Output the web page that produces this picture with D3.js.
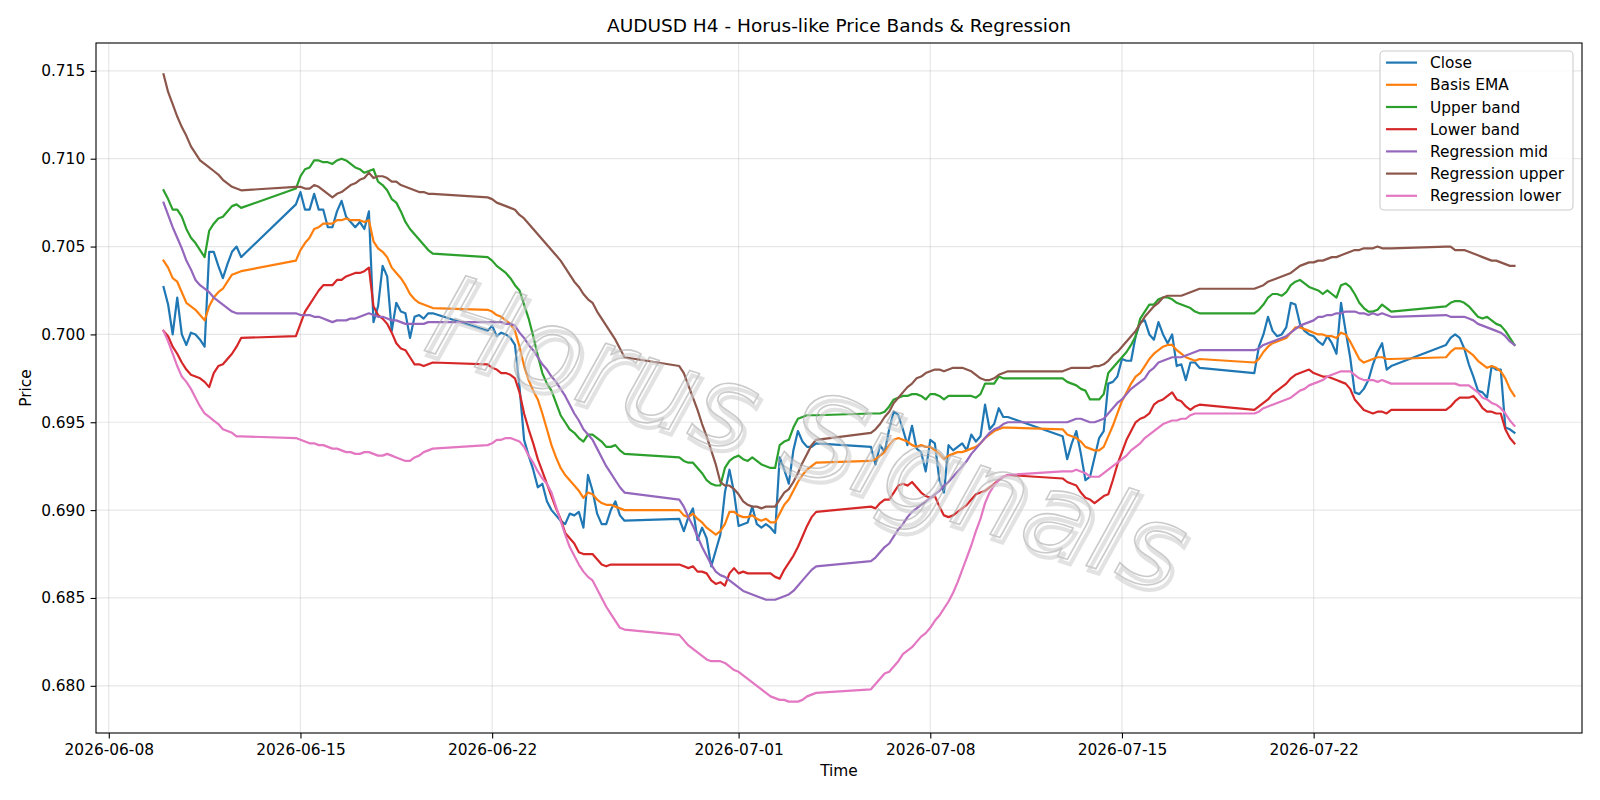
<!DOCTYPE html>
<html><head><meta charset="utf-8">
<script src="https://cdn.jsdelivr.net/npm/d3@7"></script>
<style>
body{margin:0;background:#fff}
svg{display:block}
text{font-family:"DejaVu Sans",sans-serif}
</style>
</head><body>
<svg id="chart" width="1600" height="800"></svg>
<script>
// ---- data ----
const sessions = [
  ["2026-06-10T00:00","2026-06-12T20:00"],
  ["2026-06-14T20:00","2026-06-19T20:00"],
  ["2026-06-21T20:00","2026-06-26T20:00"],
  ["2026-06-28T20:00","2026-07-03T20:00"],
  ["2026-07-05T20:00","2026-07-10T20:00"],
  ["2026-07-12T20:00","2026-07-17T20:00"],
  ["2026-07-19T20:00","2026-07-24T20:00"],
  ["2026-07-26T20:00","2026-07-29T08:00"]
];
const xTickLabels = ["2026-06-08","2026-06-15","2026-06-22","2026-07-01","2026-07-08","2026-07-15","2026-07-22"];
const yTicks = [0.680,0.685,0.690,0.695,0.700,0.705,0.710,0.715];
const seriesNames = ["Close","Basis EMA","Upper band","Lower band","Regression mid","Regression upper","Regression lower"];
const seriesColors = ["#1f77b4","#ff7f0e","#2ca02c","#d62728","#9467bd","#8c564b","#e377c2"];
const watermarkText = "Horus Signals";

const close = [
0.7027,0.7017,0.7000,0.7021,0.7000,0.6994,0.7001,0.7000,0.6997,0.6993,0.7047,0.7047,0.7039,0.7032,0.7040,0.7047,0.7050,0.7044,
0.7074,0.7081,0.7071,0.7071,0.7080,0.7071,0.7071,0.7061,0.7061,0.7070,
0.7076,0.7067,0.7064,0.7061,0.7064,0.7060,0.7070,
0.7007,0.7016,0.7039,0.7033,0.7002,0.7018,0.7013,0.7012,0.6998,0.7010,0.7011,0.7009,0.7012,0.7012,
0.7002,0.7005,0.6999,0.7001,0.7000,0.6998,0.6994,0.6970,
0.6940,0.6931,0.6923,0.6913,0.6915,0.6905,0.6900,0.6897,0.6894,0.6892,0.6898,0.6897,0.6899,0.6890,0.6920,
0.6911,0.6898,0.6892,0.6892,0.6900,0.6905,0.6897,0.6894,
0.6895,0.6888,0.6896,0.6901,0.6883,0.6890,0.6884,0.6868,0.6877,0.6886,0.6910,0.6923,0.6910,0.6891,0.6892,0.6893,0.6902,0.6892,0.6890,0.6892,0.6890,0.6887,0.6930,0.6923,0.6915,0.6934,0.6945,0.6939,0.6936,0.6936,0.6938,
0.6936,0.6926,0.6937,0.6933,0.6946,0.6956,0.6954,0.6946,0.6937,0.6948,0.6935,0.6933,0.6922,0.6940,0.6938,0.6917,0.6910,0.6937,0.6934,0.6936,0.6938,0.6934,0.6943,0.6939,0.6942,0.6960,0.6946,0.6949,0.6958,0.6953,0.6953,
0.6942,0.6929,0.6938,0.6945,0.6932,0.6917,
0.6919,0.6930,0.6941,0.6945,0.6972,0.6973,0.6976,0.6986,0.6985,0.6985,0.6999,0.7007,0.7008,0.7000,0.6997,0.7007,0.7000,0.6995,0.7000,0.6982,0.6983,0.6974,0.6984,0.6984,0.6981,
0.6978,0.6993,0.7000,0.7010,0.7002,0.6999,0.7000,0.7004,0.7018,0.7017,0.7006,0.7002,0.7000,0.6999,0.6996,0.6994,0.6999,0.6995,0.6989,
0.7018,0.7002,0.6987,0.6967,0.6966,0.6969,0.6974,0.6983,0.6990,0.6995,0.6980,0.6982,
0.6994,0.6998,0.7000,0.6998,0.6992,0.6983,0.6976,0.6968,0.6967,0.6964,0.6982,0.6980,0.6980,0.6947,0.6946,0.6944
];
const basisEma = [
0.7042,0.7038,0.7032,0.7030,0.7024,0.7018,0.7016,0.7014,0.7011,0.7008,0.7016,0.7021,0.7024,0.7026,0.7030,0.7034,0.7035,0.7036,
0.7042,0.7048,0.7052,0.7055,0.7060,0.7061,0.7063,0.7063,0.7063,0.7065,0.7065,0.7066,0.7065,0.7065,0.7065,0.7064,0.7065,0.7053,0.7049,0.7047,0.7044,0.7038,0.7035,0.7032,0.7028,0.7023,0.7020,0.7018,0.7017,0.7016,0.7015,
0.7014,0.7013,0.7011,0.7010,0.7008,0.7006,0.7002,0.6993,0.6982,0.6974,0.6968,0.6963,0.6955,0.6946,0.6937,0.6930,0.6924,0.6920,0.6917,0.6914,0.6911,0.6907,0.6910,0.6909,0.6906,0.6904,0.6903,0.6903,0.6902,0.6901,0.6900,
0.6900,0.6897,0.6896,0.6898,0.6895,0.6893,0.6890,0.6888,0.6886,0.6888,0.6892,0.6899,0.6899,0.6897,0.6896,0.6896,0.6897,0.6895,0.6894,0.6895,0.6893,0.6893,0.6898,0.6903,0.6906,0.6911,0.6916,0.6920,0.6923,0.6925,0.6927,
0.6928,0.6929,0.6931,0.6933,0.6937,0.6940,0.6941,0.6940,0.6939,0.6937,0.6936,0.6937,0.6936,0.6936,0.6934,0.6932,0.6929,0.6931,0.6932,0.6933,0.6933,0.6934,0.6935,0.6936,0.6938,0.6941,0.6943,0.6945,0.6946,0.6947,0.6947,
0.6946,0.6943,0.6942,0.6941,0.6939,0.6936,0.6935,0.6934,0.6934,0.6936,0.6942,0.6948,0.6955,0.6962,0.6967,0.6972,0.6976,0.6978,0.6982,0.6986,0.6989,0.6991,0.6993,0.6994,0.6994,0.6991,0.6989,0.6987,0.6986,0.6985,0.6986,
0.6984,0.6986,0.6990,0.6993,0.6995,0.6996,0.6997,0.6998,0.7001,0.7004,0.7004,0.7003,0.7002,0.7001,0.7000,0.7000,0.6999,0.6999,0.6998,0.7001,0.7000,0.6996,0.6991,0.6986,0.6984,0.6985,0.6986,0.6987,0.6987,0.6986,0.6986,
0.6987,0.6990,0.6992,0.6992,0.6992,0.6990,0.6988,0.6985,0.6983,0.6981,0.6982,0.6981,0.6979,0.6975,0.6969,0.6965
];
const upperBand = [
0.7082,0.7077,0.7071,0.7071,0.7067,0.7060,0.7055,0.7052,0.7048,0.7044,0.7059,0.7063,0.7066,0.7067,0.7070,0.7073,0.7074,0.7072,
0.7083,0.7090,0.7094,0.7095,0.7099,0.7099,0.7098,0.7098,0.7097,0.7099,0.7100,0.7099,0.7097,0.7095,0.7094,0.7092,0.7093,0.7094,0.7087,0.7085,0.7082,0.7077,0.7075,0.7070,0.7064,0.7060,0.7057,0.7054,0.7051,0.7048,0.7046,
0.7044,0.7042,0.7039,0.7037,0.7035,0.7032,0.7028,0.7025,0.7017,0.7009,0.6999,0.6988,0.6978,0.6972,0.6968,0.6961,0.6954,0.6950,0.6946,0.6944,0.6941,0.6939,0.6943,0.6943,0.6941,0.6939,0.6936,0.6936,0.6937,0.6934,0.6932,
0.6930,0.6928,0.6927,0.6927,0.6924,0.6921,0.6917,0.6915,0.6914,0.6914,0.6924,0.6928,0.6930,0.6931,0.6929,0.6928,0.6930,0.6928,0.6926,0.6925,0.6924,0.6924,0.6937,0.6939,0.6940,0.6947,0.6952,0.6953,0.6954,0.6954,0.6954,
0.6955,0.6955,0.6955,0.6956,0.6959,0.6963,0.6964,0.6965,0.6965,0.6966,0.6966,0.6965,0.6963,0.6966,0.6966,0.6965,0.6963,0.6965,0.6965,0.6965,0.6965,0.6965,0.6965,0.6964,0.6966,0.6972,0.6972,0.6972,0.6976,0.6975,0.6975,
0.6975,0.6973,0.6972,0.6971,0.6969,0.6968,0.6963,0.6963,0.6963,0.6966,0.6978,0.6981,0.6984,0.6987,0.6990,0.6994,0.6999,0.7009,0.7013,0.7017,0.7017,0.7020,0.7021,0.7021,0.7020,0.7018,0.7017,0.7016,0.7015,0.7013,0.7012,
0.7012,0.7014,0.7017,0.7021,0.7023,0.7023,0.7022,0.7024,0.7028,0.7030,0.7031,0.7029,0.7027,0.7026,0.7025,0.7023,0.7025,0.7023,0.7021,0.7028,0.7029,0.7027,0.7023,0.7018,0.7015,0.7013,0.7013,0.7014,0.7017,0.7015,0.7013,
0.7016,0.7018,0.7019,0.7019,0.7018,0.7016,0.7013,0.7010,0.7009,0.7010,0.7008,0.7006,0.7005,0.7002,0.6998,0.6994
];
const lowerBand = [
0.7002,0.6999,0.6993,0.6989,0.6984,0.6980,0.6977,0.6976,0.6975,0.6973,0.6970,0.6978,0.6982,0.6983,0.6986,0.6989,0.6993,0.6998,
0.6999,0.7006,0.7013,0.7017,0.7021,0.7025,0.7028,0.7028,0.7028,0.7031,0.7031,0.7033,0.7034,0.7035,0.7035,0.7036,0.7038,0.7016,0.7011,0.7009,0.7006,0.7001,0.6995,0.6992,0.6991,0.6987,0.6983,0.6983,0.6982,0.6983,0.6984,
0.6983,0.6981,0.6980,0.6978,0.6978,0.6977,0.6975,0.6967,0.6955,0.6946,0.6938,0.6929,0.6922,0.6915,0.6908,0.6901,0.6895,0.6887,0.6884,0.6881,0.6876,0.6875,0.6875,0.6875,0.6872,0.6869,0.6868,0.6869,0.6869,0.6869,0.6869,
0.6869,0.6868,0.6867,0.6868,0.6865,0.6865,0.6864,0.6860,0.6858,0.6859,0.6857,0.6864,0.6867,0.6864,0.6865,0.6864,0.6864,0.6864,0.6864,0.6864,0.6864,0.6862,0.6861,0.6866,0.6870,0.6874,0.6879,0.6885,0.6891,0.6896,0.6899,
0.6902,0.6901,0.6904,0.6906,0.6906,0.6910,0.6914,0.6915,0.6914,0.6916,0.6913,0.6910,0.6908,0.6907,0.6908,0.6902,0.6897,0.6896,0.6897,0.6899,0.6901,0.6903,0.6906,0.6909,0.6910,0.6911,0.6913,0.6915,0.6917,0.6919,0.6920,
0.6918,0.6916,0.6915,0.6914,0.6910,0.6907,0.6906,0.6904,0.6906,0.6908,0.6909,0.6917,0.6926,0.6933,0.6940,0.6945,0.6950,0.6952,0.6953,0.6955,0.6960,0.6962,0.6963,0.6965,0.6967,0.6963,0.6962,0.6959,0.6957,0.6959,0.6960,
0.6957,0.6959,0.6961,0.6963,0.6966,0.6968,0.6970,0.6972,0.6975,0.6977,0.6978,0.6979,0.6980,0.6978,0.6977,0.6976,0.6976,0.6975,0.6974,0.6973,0.6972,0.6969,0.6963,0.6960,0.6957,0.6956,0.6955,0.6956,0.6956,0.6955,0.6957,
0.6957,0.6959,0.6962,0.6964,0.6964,0.6964,0.6965,0.6962,0.6958,0.6956,0.6956,0.6955,0.6955,0.6946,0.6941,0.6938
];
const regMid = [
0.7075,0.7068,0.7061,0.7055,0.7049,0.7042,0.7037,0.7031,0.7028,0.7026,0.7024,0.7021,0.7019,0.7017,0.7015,0.7013,0.7012,0.7012,
0.7012,0.7011,0.7011,0.7011,0.7010,0.7010,0.7009,0.7008,0.7007,0.7008,0.7008,0.7008,0.7009,0.7009,0.7010,0.7011,0.7012,0.7011,0.7010,0.7010,0.7009,0.7008,0.7008,0.7007,0.7006,0.7006,0.7006,0.7006,0.7006,0.7007,0.7007,
0.7007,0.7007,0.7007,0.7007,0.7006,0.7006,0.7005,0.7001,0.6998,0.6994,0.6991,0.6987,0.6983,0.6980,0.6976,0.6973,0.6969,0.6965,0.6960,0.6955,0.6951,0.6946,0.6943,0.6940,0.6935,0.6930,0.6925,0.6921,0.6917,0.6913,0.6910,
0.6906,0.6902,0.6896,0.6891,0.6885,0.6879,0.6874,0.6869,0.6865,0.6863,0.6862,0.6860,0.6858,0.6856,0.6854,0.6853,0.6852,0.6851,0.6850,0.6849,0.6849,0.6849,0.6850,0.6851,0.6852,0.6854,0.6857,0.6860,0.6863,0.6866,0.6868,
0.6871,0.6873,0.6876,0.6879,0.6881,0.6885,0.6889,0.6892,0.6896,0.6899,0.6901,0.6903,0.6905,0.6907,0.6909,0.6911,0.6914,0.6916,0.6919,0.6922,0.6925,0.6928,0.6932,0.6935,0.6938,0.6941,0.6944,0.6946,0.6947,0.6949,0.6950,
0.6950,0.6950,0.6951,0.6952,0.6952,0.6951,0.6950,0.6950,0.6951,0.6952,0.6955,0.6958,0.6961,0.6963,0.6966,0.6969,0.6971,0.6973,0.6975,0.6979,0.6981,0.6984,0.6985,0.6986,0.6987,0.6987,0.6987,0.6988,0.6989,0.6990,0.6991,
0.6991,0.6992,0.6994,0.6995,0.6996,0.6997,0.6998,0.6999,0.7001,0.7003,0.7005,0.7006,0.7007,0.7008,0.7010,0.7010,0.7011,0.7011,0.7012,0.7012,0.7013,0.7013,0.7013,0.7012,0.7012,0.7011,0.7012,0.7011,0.7012,0.7011,0.7010,
0.7011,0.7010,0.7010,0.7010,0.7010,0.7009,0.7008,0.7006,0.7005,0.7004,0.7003,0.7002,0.7001,0.6999,0.6996,0.6994
];
const regUpper = [
0.7148,0.7138,0.7131,0.7124,0.7118,0.7113,0.7107,0.7103,0.7099,0.7097,0.7095,0.7093,0.7091,0.7088,0.7086,0.7084,0.7083,0.7082,
0.7084,0.7084,0.7083,0.7083,0.7085,0.7084,0.7082,0.7080,0.7078,0.7080,0.7081,0.7083,0.7085,0.7086,0.7088,0.7089,0.7092,0.7089,0.7090,0.7090,0.7089,0.7087,0.7087,0.7085,0.7084,0.7083,0.7082,0.7081,0.7081,0.7080,0.7080,
0.7078,0.7077,0.7075,0.7074,0.7073,0.7072,0.7071,0.7068,0.7066,0.7063,0.7060,0.7057,0.7054,0.7051,0.7048,0.7045,0.7042,0.7038,0.7034,0.7030,0.7027,0.7023,0.7020,0.7018,0.7013,0.7009,0.7005,0.7001,0.6997,0.6992,0.6987,
0.6982,0.6978,0.6971,0.6964,0.6957,0.6949,0.6942,0.6934,0.6926,0.6916,0.6914,0.6914,0.6912,0.6909,0.6905,0.6903,0.6902,0.6902,0.6901,0.6902,0.6902,0.6902,0.6906,0.6910,0.6912,0.6916,0.6921,0.6927,0.6932,0.6937,0.6940,
0.6944,0.6946,0.6949,0.6953,0.6956,0.6961,0.6964,0.6967,0.6970,0.6972,0.6975,0.6976,0.6978,0.6979,0.6980,0.6980,0.6979,0.6980,0.6981,0.6981,0.6981,0.6980,0.6979,0.6977,0.6975,0.6974,0.6974,0.6975,0.6977,0.6978,0.6979,
0.6979,0.6980,0.6981,0.6981,0.6981,0.6981,0.6981,0.6982,0.6982,0.6983,0.6985,0.6988,0.6990,0.6993,0.6996,0.6999,0.7002,0.7006,0.7010,0.7013,0.7016,0.7018,0.7021,0.7022,0.7022,0.7022,0.7022,0.7023,0.7024,0.7025,0.7026,
0.7026,0.7027,0.7028,0.7030,0.7031,0.7032,0.7033,0.7034,0.7035,0.7037,0.7039,0.7040,0.7041,0.7041,0.7042,0.7042,0.7043,0.7044,0.7044,0.7045,0.7046,0.7047,0.7048,0.7048,0.7049,0.7049,0.7049,0.7050,0.7049,0.7049,0.7049,
0.7050,0.7050,0.7048,0.7048,0.7048,0.7047,0.7046,0.7045,0.7044,0.7043,0.7042,0.7042,0.7041,0.7040,0.7039,0.7039
];
const regLower = [
0.7002,0.6996,0.6989,0.6982,0.6976,0.6973,0.6969,0.6964,0.6959,0.6955,0.6953,0.6951,0.6949,0.6946,0.6945,0.6944,0.6942,0.6942,
0.6941,0.6940,0.6939,0.6938,0.6938,0.6937,0.6937,0.6936,0.6935,0.6935,0.6934,0.6933,0.6933,0.6932,0.6932,0.6933,0.6933,0.6932,0.6931,0.6931,0.6932,0.6931,0.6930,0.6929,0.6928,0.6928,0.6930,0.6931,0.6933,0.6934,0.6935,
0.6937,0.6938,0.6940,0.6940,0.6941,0.6941,0.6940,0.6939,0.6936,0.6931,0.6927,0.6922,0.6918,0.6915,0.6910,0.6902,0.6894,0.6886,0.6879,0.6874,0.6869,0.6865,0.6862,0.6860,0.6855,0.6850,0.6845,0.6841,0.6837,0.6833,0.6832,
0.6829,0.6826,0.6823,0.6821,0.6819,0.6817,0.6815,0.6814,0.6814,0.6814,0.6813,0.6811,0.6809,0.6808,0.6806,0.6804,0.6802,0.6800,0.6798,0.6796,0.6794,0.6793,0.6792,0.6792,0.6791,0.6791,0.6791,0.6792,0.6794,0.6795,0.6796,
0.6798,0.6801,0.6804,0.6807,0.6808,0.6811,0.6814,0.6818,0.6820,0.6822,0.6825,0.6828,0.6830,0.6833,0.6837,0.6840,0.6844,0.6848,0.6853,0.6859,0.6866,0.6873,0.6880,0.6888,0.6895,0.6904,0.6910,0.6914,0.6917,0.6919,0.6920,
0.6922,0.6922,0.6922,0.6923,0.6922,0.6921,0.6919,0.6919,0.6919,0.6921,0.6923,0.6925,0.6927,0.6929,0.6931,0.6934,0.6936,0.6938,0.6941,0.6943,0.6945,0.6947,0.6949,0.6950,0.6951,0.6951,0.6952,0.6952,0.6954,0.6955,0.6955,
0.6955,0.6956,0.6958,0.6959,0.6960,0.6961,0.6962,0.6963,0.6964,0.6966,0.6968,0.6969,0.6971,0.6972,0.6973,0.6974,0.6976,0.6977,0.6978,0.6979,0.6979,0.6979,0.6977,0.6975,0.6974,0.6974,0.6974,0.6973,0.6974,0.6973,0.6972,
0.6972,0.6972,0.6972,0.6971,0.6971,0.6971,0.6969,0.6967,0.6964,0.6963,0.6961,0.6960,0.6958,0.6955,0.6951,0.6948
];
const seriesValues = [close, basisEma, upperBand, lowerBand, regMid, regUpper, regLower];

// ---- build ----
const parseT = d3.utcParse("%Y-%m-%dT%H:%M");
const parseD = d3.utcParse("%Y-%m-%d");
const STEP = 4 * 3600 * 1000;
const barTimes = [];
sessions.forEach(([a, b]) => {
  for (let t = +parseT(a); t <= +parseT(b); t += STEP) barTimes.push(new Date(t));
});
seriesValues.forEach((s, k) => { if (s.length !== barTimes.length) console.error(seriesNames[k], s.length, barTimes.length); });

const svg = d3.select("#chart");
const M = {left: 96, right: 1582, top: 43, bottom: 733};
const FS = 15.4;

const t0 = +barTimes[0], t1 = +barTimes[barTimes.length - 1];
const xpad = (t1 - t0) * 0.05;
const x = d3.scaleUtc().domain([new Date(t0 - xpad), new Date(t1 + xpad)]).range([M.left, M.right]);
const allV = seriesValues.flat();
const [vmin, vmax] = d3.extent(allV);
const ypad = (vmax - vmin) * 0.05;
const y = d3.scaleLinear().domain([vmin - ypad, vmax + ypad]).range([M.bottom, M.top]);

svg.append("rect").attr("width", 1600).attr("height", 800).attr("fill", "#fff");

// grid
const xTickDates = xTickLabels.map(parseD);
const grid = svg.append("g");
grid.selectAll("line.gx").data(xTickDates).join("line")
  .attr("x1", d => x(d)).attr("x2", d => x(d)).attr("y1", M.top).attr("y2", M.bottom)
  .attr("stroke", "#b0b0b0").attr("stroke-opacity", 0.3).attr("stroke-width", 1.2);
grid.selectAll("line.gy").data(yTicks).join("line")
  .attr("x1", M.left).attr("x2", M.right).attr("y1", d => y(d)).attr("y2", d => y(d))
  .attr("stroke", "#b0b0b0").attr("stroke-opacity", 0.3).attr("stroke-width", 1.2);

// clip
svg.append("defs").append("clipPath").attr("id", "clip")
  .append("rect").attr("x", M.left).attr("y", M.top).attr("width", M.right - M.left).attr("height", M.bottom - M.top);

// lines
const lineGen = d3.line().x((d, i) => x(barTimes[i])).y(d => y(d));
const lines = svg.append("g").attr("clip-path", "url(#clip)");
seriesValues.forEach((vals, k) => {
  lines.append("path").datum(vals)
    .attr("d", lineGen)
    .attr("fill", "none").attr("stroke", seriesColors[k]).attr("stroke-width", 2.2)
    .attr("stroke-linejoin", "round").attr("stroke-linecap", "square");
});

// watermark (outlined italic text with soft shadow)
const wmOuter = svg.append("g").attr("clip-path", "url(#clip)");
const wm = wmOuter.append("g").attr("transform", "translate(808,433) rotate(18)").attr("opacity", 0.6);
wm.append("text").text(watermarkText)
  .attr("x", 4).attr("y", 4)
  .attr("text-anchor", "middle").attr("dominant-baseline", "central")
  .attr("font-size", 115).attr("font-style", "italic")
  .attr("fill", "none").attr("stroke", "#cfcfcf").attr("stroke-width", 4);
wm.append("text").text(watermarkText)
  .attr("text-anchor", "middle").attr("dominant-baseline", "central")
  .attr("font-size", 115).attr("font-style", "italic")
  .attr("fill", "none").attr("stroke", "#a8a8a8").attr("stroke-width", 1.6);

// axes
const xAxis = d3.axisBottom(x).tickValues(xTickDates).tickFormat(d3.utcFormat("%Y-%m-%d"))
  .tickSize(5.4).tickPadding(5.4).tickSizeOuter(0);
const yAxis = d3.axisLeft(y).tickValues(yTicks).tickFormat(d3.format(".3f"))
  .tickSize(5.4).tickPadding(5.4).tickSizeOuter(0);
const gx = svg.append("g").attr("transform", `translate(0,${M.bottom})`).call(xAxis);
const gy = svg.append("g").attr("transform", `translate(${M.left},0)`).call(yAxis);
[gx, gy].forEach(g => {
  g.select(".domain").remove();
  g.selectAll(".tick line").attr("stroke", "#000").attr("stroke-width", 1.1);
  g.selectAll(".tick text").attr("fill", "#000").attr("font-size", FS).attr("font-family", "DejaVu Sans");
});

// frame
svg.append("rect").attr("x", M.left).attr("y", M.top)
  .attr("width", M.right - M.left).attr("height", M.bottom - M.top)
  .attr("fill", "none").attr("stroke", "#000").attr("stroke-width", 1.1);

// title and labels
svg.append("text").attr("x", (M.left + M.right) / 2).attr("y", 32)
  .attr("text-anchor", "middle").attr("font-size", 18.5).attr("fill", "#000")
  .text("AUDUSD H4 - Horus-like Price Bands & Regression");
svg.append("text").attr("x", (M.left + M.right) / 2).attr("y", 776)
  .attr("text-anchor", "middle").attr("font-size", FS).attr("fill", "#000").text("Time");
svg.append("text").attr("transform", `translate(31,${(M.top + M.bottom) / 2}) rotate(-90)`)
  .attr("text-anchor", "middle").attr("font-size", FS).attr("fill", "#000").text("Price");

// legend
const L = {x: 1380, y: 51, w: 193, h: 159, row: 22.2, first: 62.6};
const lg = svg.append("g");
lg.append("rect").attr("x", L.x).attr("y", L.y).attr("width", L.w).attr("height", L.h)
  .attr("rx", 4).attr("ry", 4)
  .attr("fill", "#fff").attr("fill-opacity", 0.8).attr("stroke", "#cccccc").attr("stroke-width", 1.1);
seriesNames.forEach((name, k) => {
  const cy = L.first + k * L.row;
  lg.append("line").attr("x1", L.x + 6).attr("x2", L.x + 37).attr("y1", cy).attr("y2", cy)
    .attr("stroke", seriesColors[k]).attr("stroke-width", 2.2);
  lg.append("text").attr("x", L.x + 50).attr("y", cy + 5.5)
    .attr("font-size", FS).attr("fill", "#000").text(name);
});
</script>
</body></html>
